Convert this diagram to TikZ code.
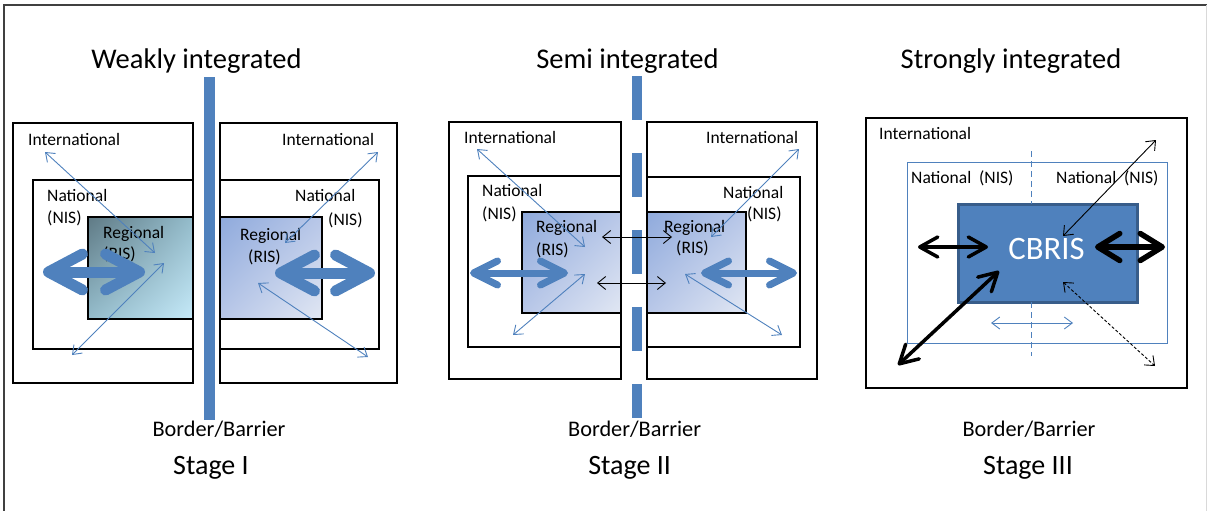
\documentclass[tikz,border=0pt]{standalone}
\usepackage{fontspec}
\setmainfont{Carlito}
\usetikzlibrary{arrows.meta,shadings}

\definecolor{barblue}{HTML}{4F81BD}
\definecolor{cbrisedge}{HTML}{385D8A}
\definecolor{framegrey}{HTML}{404040}
\definecolor{risdark}{HTML}{5F7A85}
\definecolor{rismid}{HTML}{94BCCB}
\definecolor{rislight}{HTML}{C6EAF9}
\definecolor{risblue}{HTML}{8FAADC}
\definecolor{risbluemid}{HTML}{B8C7E8}
\definecolor{rispale}{HTML}{E1E7F3}

\tikzstyle{box}=[draw=black, line width=1.2pt]
\tikzstyle{natbox}=[draw=barblue, line width=1pt]
\tikzstyle{txt}=[inner sep=0pt, anchor=west, text height=0.64em, text depth=0pt, font=\fontsize{17.5}{21}\selectfont]
\tikzstyle{title}=[inner sep=0pt, anchor=base, font=\fontsize{28.5}{34}\selectfont]
\tikzstyle{stagelabel}=[inner sep=0pt, anchor=base, font=\fontsize{28}{34}\selectfont]
\tikzstyle{borderlabel}=[inner sep=0pt, anchor=base, font=\fontsize{22.3}{27}\selectfont]
\tikzstyle{link}=[barblue, line width=0.9pt, >={Straight Barb[length=8pt,width=12pt]}, <->]
\tikzstyle{blacklink}=[black, line width=0.9pt, >={Straight Barb[length=8pt,width=13pt]}, <->]
\tikzstyle{bigflow}=[barblue, line width=11pt, >={Straight Barb[round,length=34pt,width=36pt]}, <->]
\tikzstyle{flow}=[barblue, line width=7pt, >={Straight Barb[round,length=24pt,width=24pt]}, <->]
\tikzstyle{cbflow}=[black, line width=3.5pt, >={Straight Barb[round,length=18pt,width=20pt]}, <->]
\tikzstyle{cbflow wide}=[black, line width=5.5pt, >={Straight Barb[round,length=22pt,width=27pt]}, <->]
\tikzstyle{ris I}=[upper left=risdark, lower right=rislight, upper right=rismid, lower left=rismid]
\tikzstyle{ris}=[upper left=risblue, lower right=rispale, upper right=risbluemid, lower left=risbluemid]

\begin{document}
\begin{tikzpicture}[x=1pt, y=-1pt]
	\useasboundingbox (0,0) rectangle (1207,511);
	% frame
	\draw[framegrey, line width=1.5pt] (4,511) -- (4,5) -- (1207,5);
	\draw[gray!30, line width=0.8pt] (1206.5,5) -- (1206.5,511);

	% titles
	\node[title] (t1) at (196.5,68) {Weakly integrated};
	\node[title] (t2) at (627.5,68) {Semi integrated};
	\node[title] (t3) at (1011,68) {Strongly integrated};

	% Stage I: boxes
	\draw[box] (13,123) rectangle (193,383);
	\draw[box] (220,123) rectangle (397,383);
	\draw[box] (33,180) rectangle (193,349);
	\draw[box] (220,180) rectangle (379,349);
	\shade[ris I] (88,217) rectangle (193,319);
	\draw[box] (88,217) rectangle (193,319);
	\shade[ris] (220,217) rectangle (322,319);
	\draw[box] (220,217) rectangle (322,319);
	\fill[barblue] (204,77) rectangle (215,420);

	\node[txt] (wl-int) at (28,142) {International};
	\node[txt] (wl-nat) at (47,198) {National};
	\node[txt] (wl-nis) at (47,220) {(NIS)};
	\node[txt] (wl-reg) at (103,235) {Regional};
	\node[txt] (wl-ris) at (103,256) {(RIS)};
	\node[txt] (wr-int) at (282,142) {International};
	\node[txt] (wr-nat) at (295,198) {National};
	\node[txt] (wr-nis) at (328,222) {(NIS)};
	\node[txt] (wr-reg) at (240,237) {Regional};
	\node[txt] (wr-ris) at (248,259) {(RIS)};

	\coordinate (wl-a) at (45,152);  \coordinate (wl-b) at (155,253);
	\coordinate (wl-c) at (72,355);  \coordinate (wl-d) at (164,263);
	\coordinate (wl-e) at (43,272);  \coordinate (wl-f) at (145,272);
	\coordinate (wr-a) at (378,152); \coordinate (wr-b) at (285,243);
	\coordinate (wr-c) at (258,283); \coordinate (wr-d) at (368,357);
	\coordinate (wr-e) at (275,273); \coordinate (wr-f) at (375,273);
	\draw[link] (wl-a) -- (wl-b);
	\draw[link] (wl-c) -- (wl-d);
	\draw[bigflow] (wl-e) -- (wl-f);
	\draw[link] (wr-a) -- (wr-b);
	\draw[link] (wr-c) -- (wr-d);
	\draw[bigflow] (wr-e) -- (wr-f);

	% Stage II: boxes
	\draw[box] (449,122) rectangle (621,379);
	\draw[box] (647,122) rectangle (817,379);
	\draw[box] (468,176) rectangle (621,347);
	\draw[box] (647,177) rectangle (800,347);
	\shade[ris] (522,212) rectangle (621,313);
	\draw[box] (522,212) rectangle (621,313);
	\shade[ris] (647,212) rectangle (746,313);
	\draw[box] (647,212) rectangle (746,313);
	\draw[barblue, line width=10.5pt, dash pattern=on 44pt off 33pt] (637,76) -- (637,418);

	\node[txt] (sl-int) at (464,140) {International};
	\node[txt] (sl-nat) at (482,193) {National};
	\node[txt] (sl-nis) at (482,216) {(NIS)};
	\node[txt] (sl-reg) at (536,229) {Regional};
	\node[txt] (sl-ris) at (536,252) {(RIS)};
	\node[txt] (sr-int) at (706,140) {International};
	\node[txt] (sr-nat) at (723,195) {National};
	\node[txt] (sr-nis) at (747,216) {(NIS)};
	\node[txt] (sr-reg) at (664,229) {Regional};
	\node[txt] (sr-ris) at (676,250) {(RIS)};

	\coordinate (sl-a) at (477,149); \coordinate (sl-b) at (585,247);
	\coordinate (sl-c) at (513,335); \coordinate (sl-d) at (585,274);
	\coordinate (sl-e) at (470,273); \coordinate (sl-f) at (568,273);
	\coordinate (sx-a) at (602,237); \coordinate (sx-b) at (672,237);
	\coordinate (sx-c) at (597,283); \coordinate (sx-d) at (666,283);
	\coordinate (sr-a) at (799,149); \coordinate (sr-b) at (711,237);
	\coordinate (sr-c) at (685,274); \coordinate (sr-d) at (782,335);
	\coordinate (sr-e) at (701,273); \coordinate (sr-f) at (797,273);
	\draw[link] (sl-a) -- (sl-b);
	\draw[link] (sl-c) -- (sl-d);
	\draw[flow] (sl-e) -- (sl-f);
	\draw[blacklink] (sx-a) -- (sx-b);
	\draw[blacklink] (sx-c) -- (sx-d);
	\draw[link] (sr-a) -- (sr-b);
	\draw[link] (sr-c) -- (sr-d);
	\draw[flow] (sr-e) -- (sr-f);

	% Stage III: one cross-border region
	\draw[box] (866,118) rectangle (1187,388);
	\draw[natbox] (907,162) rectangle (1167,343);
	\draw[fill=barblue, draw=cbrisedge, line width=3pt] (958,204) rectangle (1137,302);
	\draw[barblue, line width=1pt, dash pattern=on 6pt off 4pt] (1031,151) -- (1031,204);
	\draw[barblue, line width=1pt, dash pattern=on 6pt off 4pt] (1031,302) -- (1031,356);

	\node[txt] (st-int) at (879,136) {International};
	\node[txt] (st-natl) at (911,180) {National~~(NIS)};
	\node[txt] (st-natr) at (1056,180) {National~~(NIS)};
	\node[inner sep=0pt, text height=0.64em, text depth=0pt, text=white,
		font=\fontsize{32.7}{38}\selectfont] (cbris) at (1046.5,256) {CBRIS};

	\coordinate (st-a) at (1156,140);  \coordinate (st-b) at (1063,236);
	\coordinate (st-c) at (918,247);   \coordinate (st-d) at (988,247);
	\coordinate (st-e) at (1095,247);  \coordinate (st-f) at (1165,247);
	\coordinate (st-g) at (898,365);   \coordinate (st-h) at (999,271);
	\coordinate (st-i) at (1063,282);  \coordinate (st-j) at (1155,366);
	\coordinate (st-k) at (991,323);   \coordinate (st-l) at (1073,323);
	\draw[blacklink] (st-a) -- (st-b);
	\draw[cbflow] (st-c) -- (st-d);
	\draw[cbflow wide] (st-e) -- (st-f);
	\draw[cbflow] (st-g) -- (st-h);
	\draw[blacklink, dash pattern=on 3pt off 2pt] (st-i) -- (st-j);
	\draw[link] (st-k) -- (st-l);

	% captions
	\node[borderlabel] (b1) at (219,436.7) {Border/Barrier};
	\node[borderlabel] (b2) at (634.6,436.7) {Border/Barrier};
	\node[borderlabel] (b3) at (1029,436.7) {Border/Barrier};
	\node[stagelabel] (s1) at (211,474) {Stage I};
	\node[stagelabel] (s2) at (629.6,474) {Stage II};
	\node[stagelabel] (s3) at (1028,474) {Stage III};
\end{tikzpicture}
\end{document}
